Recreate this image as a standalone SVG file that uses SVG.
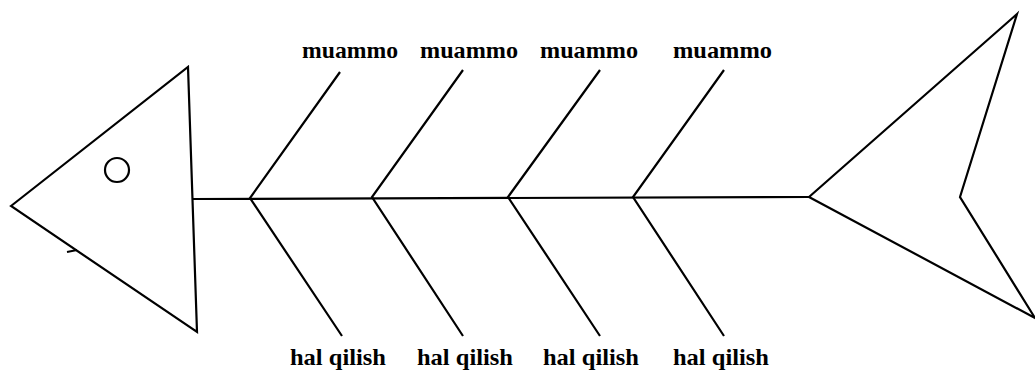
<svg xmlns="http://www.w3.org/2000/svg" width="1035" height="370" viewBox="0 0 1035 370">
<style>
.ln{fill:none;stroke:#000;stroke-width:2.2;stroke-linejoin:miter;stroke-linecap:butt}
.t{font-family:"Liberation Serif","Times New Roman",serif;font-weight:bold;font-size:24px;fill:#000}
</style>
<rect width="1035" height="370" fill="#fff"/>
<g id="head">
<polygon class="ln" points="11,206 188,67 197,332"/>
<circle class="ln" cx="117" cy="170" r="12"/>
<line class="ln" x1="67" y1="252" x2="77" y2="250"/>
</g>
<g id="tail">
<polyline class="ln" points="809,197 1017,14 960,197 1035,318 809,197"/>
</g>
<g id="connectors">
<line class="ln" x1="193" y1="199" x2="809" y2="197"/>
<polyline class="ln" points="340,72 250,198 342,336"/>
<polyline class="ln" points="463,70 372,197 463,336"/>
<polyline class="ln" points="600,70 508,197 600,336"/>
<polyline class="ln" points="724,70 633,197 724,336"/>
</g>
<g id="problems">
<text class="t" x="302" y="58" textLength="96" lengthAdjust="spacingAndGlyphs">muammo</text>
<text class="t" x="420" y="58" textLength="98" lengthAdjust="spacingAndGlyphs">muammo</text>
<text class="t" x="540" y="58" textLength="98" lengthAdjust="spacingAndGlyphs">muammo</text>
<text class="t" x="673" y="58" textLength="99" lengthAdjust="spacingAndGlyphs">muammo</text>
</g>
<g id="solutions">
<text class="t" x="290" y="365" textLength="96" lengthAdjust="spacingAndGlyphs">hal qilish</text>
<text class="t" x="417" y="365" textLength="96" lengthAdjust="spacingAndGlyphs">hal qilish</text>
<text class="t" x="543" y="365" textLength="96" lengthAdjust="spacingAndGlyphs">hal qilish</text>
<text class="t" x="673" y="365" textLength="96" lengthAdjust="spacingAndGlyphs">hal qilish</text>
</g>
</svg>
